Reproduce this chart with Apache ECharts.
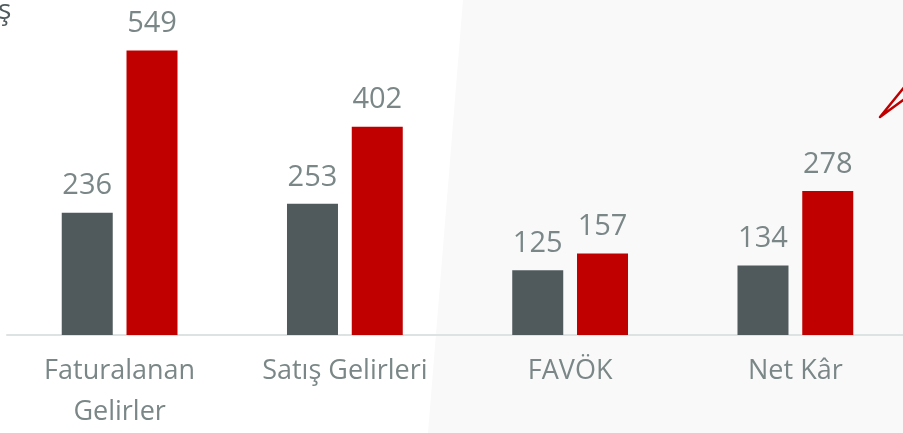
<!DOCTYPE html>
<html>
<head>
<meta charset="utf-8">
<script src="https://cdn.jsdelivr.net/npm/echarts@6/dist/echarts.min.js"></script>
<style>
  html, body { margin: 0; padding: 0; background: #fff; overflow: hidden; }
  #chart { width: 912px; height: 433px; }
</style>
</head>
<body>
<div id="chart"></div>
<script>
const categories = ['Faturalanan\nGelirler', 'Satış Gelirleri', 'FAVÖK', 'Net Kâr']
const prevValues = [236, 253, 125, 134]
const currValues = [549, 402, 157, 278]

const labelColor = '#7b8787'
const font = 'Open Sans'

const myChart = echarts.init(document.getElementById('chart'))
myChart.setOption({
  animation: false,
  graphic: [
    // light gray slide panel on the right
    {
      type: 'polygon', z: -10, silent: true,
      shape: { points: [[463, 0], [912, 0], [912, 433], [428, 433]] },
      style: { fill: '#f9f9fa' }
    },
    // decorative red strokes, top right
    {
      type: 'polyline', z: 10, silent: true,
      shape: { points: [[910, 80], [880, 117], [910, 95]] },
      style: { stroke: '#c00000', lineWidth: 2.5, fill: null, lineJoin: 'round', lineCap: 'round' }
    },
    // clipped title fragment
    {
      type: 'text', left: -2, top: -3, silent: true,
      style: { text: 'ş', fill: '#505a5c', font: '28px "Open Sans"' }
    }
  ],
  grid: { left: 7, top: 24, width: 901, height: 312, containLabel: false },
  xAxis: {
    type: 'category',
    data: categories,
    axisLine: { lineStyle: { color: '#dde2e2', width: 2 } },
    axisTick: { show: false },
    axisLabel: {
      color: labelColor, fontFamily: font, fontSize: 27,
      margin: 16, lineHeight: 41, interval: 0
    }
  },
  yAxis: {
    type: 'value', min: 0, max: 600,
    show: false, splitLine: { show: false }
  },
  series: [
    {
      name: 'prev', type: 'bar', data: prevValues,
      barWidth: 51, barGap: '27%',
      itemStyle: { color: '#505a5c' },
      label: { show: true, position: 'top', distance: 12, color: labelColor, fontFamily: font, fontSize: 29 }
    },
    {
      name: 'curr', type: 'bar', data: currValues,
      barWidth: 51,
      itemStyle: { color: '#c00000' },
      label: { show: true, position: 'top', distance: 12, color: labelColor, fontFamily: font, fontSize: 29 }
    }
  ]
})
</script>
</body>
</html>
